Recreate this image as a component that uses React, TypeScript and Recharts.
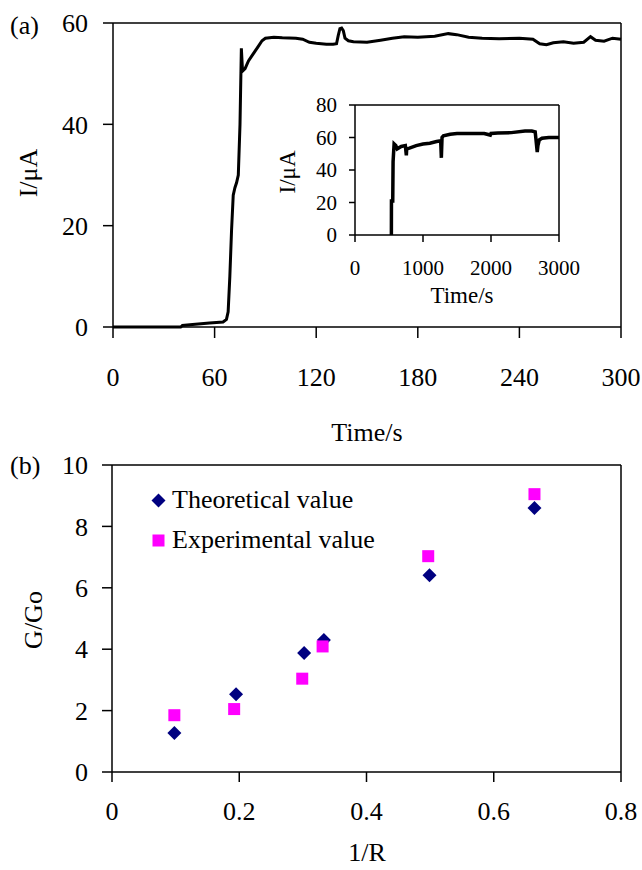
import React from 'react';
import {
  LineChart,
  Line,
  XAxis,
  YAxis,
  ReferenceLine,
  ScatterChart,
  Scatter,
  Legend,
} from 'recharts';

// (a) current transient, main plot
const mainTime = [0, 40, 41, 47, 57, 65, 67, 68, 69, 70, 71, 72, 73, 74, 75, 75.8, 76.5, 78, 80, 82, 84, 86, 88, 90, 95, 100, 108, 112, 116, 120, 126, 130, 132, 133, 134, 135, 136, 137, 139, 142, 150, 158, 165, 172, 180, 190, 198, 203, 210, 218, 228, 240, 248, 252, 256, 260, 266, 272, 278, 282, 285, 290, 295, 300];
const mainCurrent = [0, 0, 0.3, 0.5, 0.8, 1, 1.5, 3, 10, 19, 26, 27.5, 28.5, 30, 40, 55, 50.5, 51, 52.5, 53.5, 54.5, 55.5, 56.5, 57, 57.2, 57.1, 57, 56.8, 56.2, 56, 55.8, 55.8, 55.9, 57.5, 58.9, 59, 58.5, 57, 56.5, 56.3, 56.2, 56.6, 57, 57.3, 57.2, 57.4, 57.9, 57.7, 57.2, 57, 56.9, 57, 56.8, 55.9, 55.7, 56.1, 56.3, 56, 56.2, 57.3, 56.6, 56.4, 57, 56.8];
const mainXTicks = [0, 60, 120, 180, 240, 300];
const mainYTicks = [0, 20, 40, 60];

// (a) inset, long run
const insetTime = [535, 536, 555, 560, 575, 600, 620, 680, 740, 755, 760, 800, 900, 1000, 1100, 1200, 1260, 1270, 1280, 1300, 1400, 1500, 1700, 1900, 1990, 2000, 2100, 2300, 2500, 2600, 2650, 2680, 2690, 2710, 2750, 2850, 3000];
const insetCurrent = [0, 21, 21, 45, 56, 55, 53, 54.5, 55, 49, 53, 53.5, 55, 56, 56.5, 57.5, 58, 47.5, 60, 61, 62, 62.5, 62.5, 62.5, 61.5, 62.5, 62.8, 63, 64, 64, 63.5, 51, 55, 58.5, 59.5, 60, 60];
const insetXTicks = [0, 1000, 2000, 3000];
const insetYTicks = [0, 20, 40, 60, 80];

// (b) G/Go against 1/R
const theoryR = [0.098, 0.195, 0.302, 0.333, 0.499, 0.664];
const theoryG = [1.27, 2.53, 3.88, 4.3, 6.41, 8.6];
const expR = [0.098, 0.192, 0.299, 0.331, 0.497, 0.664];
const expG = [1.85, 2.05, 3.04, 4.09, 7.03, 9.05];
const rTicks = [0, 0.2, 0.4, 0.6, 0.8];
const gTicks = [0, 2, 4, 6, 8, 10];
const legendOrder = ['Theoretical value', 'Experimental value'];

const mainData = mainTime.map((t, i) => ({ t, i: mainCurrent[i] }));
const insetData = insetTime.map((t, i) => ({ t, i: insetCurrent[i] }));
const theoryData = theoryR.map((x, i) => ({ x, y: theoryG[i] }));
const expData = expR.map((x, i) => ({ x, y: expG[i] }));

const FONT = "'Liberation Serif', 'Times New Roman', serif";
const axisStroke = { stroke: '#000', strokeWidth: 1.5 };
const bigTick = { fill: '#000', fontSize: 26, fontFamily: FONT };
const smallTick = { fill: '#000', fontSize: 21, fontFamily: FONT };

const Diamond = (props: any) => {
  const { cx, cy, fill } = props;
  return <polygon points={`${cx},${cy - 7} ${cx + 7},${cy} ${cx},${cy + 7} ${cx - 7},${cy}`} fill={fill} />;
};

const Square = (props: any) => {
  const { cx, cy, fill } = props;
  return <rect x={cx - 6} y={cy - 6} width={12} height={12} fill={fill} />;
};

const renderLegend = (props: any) => {
  const items = [...(props.payload || [])].sort(
    (a: any, b: any) => legendOrder.indexOf(a.value) - legendOrder.indexOf(b.value)
  );
  return (
    <div style={{ fontFamily: FONT, fontSize: 26, color: '#000' }}>
      {items.map((entry: any) => (
        <div key={entry.value} style={{ display: 'flex', alignItems: 'center', height: 40, whiteSpace: 'nowrap' }}>
          <svg width={17} height={17} style={{ marginRight: 5 }}>
            {entry.type === 'diamond'
              ? <Diamond cx={8.5} cy={8.5} fill={entry.color} />
              : <Square cx={8.5} cy={8.5} fill={entry.color} />}
          </svg>
          <span>{entry.value}</span>
        </div>
      ))}
    </div>
  );
};

const Titles = () => (
  <svg width={642} height={870} style={{ position: 'absolute', left: 0, top: 0, pointerEvents: 'none' }}>
    <g fontFamily={FONT} fill="#000">
      <text x={10} y={34} fontSize={26}>(a)</text>
      <text x={28} y={173} fontSize={26} textAnchor="middle" dy="0.35em" transform="rotate(-90 28 173)">I/μA</text>
      <text x={367} y={441} fontSize={26} textAnchor="middle">Time/s</text>
      <text x={287} y={172} fontSize={23} textAnchor="middle" dy="0.35em" transform="rotate(-90 287 172)">I/μA</text>
      <text x={462} y={303} fontSize={23} textAnchor="middle">Time/s</text>
      <text x={10} y={474} fontSize={26}>(b)</text>
      <text x={33} y={620} fontSize={26} textAnchor="middle" dy="0.35em" transform="rotate(-90 33 620)">G/Go</text>
      <text x={367} y={861} fontSize={26} textAnchor="middle">1/R</text>
    </g>
  </svg>
);

export default function App() {
  return (
    <div style={{ position: 'absolute', left: 0, top: 0, width: 642, height: 870, background: '#fff' }}>
      <div style={{ position: 'absolute', left: 0, top: 0 }}>
        <LineChart width={642} height={450} data={mainData} margin={{ top: 23, right: 21, bottom: 0, left: 0 }}>
          <XAxis
            type="number"
            dataKey="t"
            domain={[0, 300]}
            ticks={mainXTicks}
            interval={0}
            height={123}
            tick={bigTick}
            tickSize={11}
            tickMargin={30}
            axisLine={axisStroke}
            tickLine={axisStroke}
          />
          <YAxis
            type="number"
            domain={[0, 60]}
            ticks={mainYTicks}
            interval={0}
            width={113}
            tick={bigTick}
            tickSize={10}
            tickMargin={15}
            axisLine={axisStroke}
            tickLine={axisStroke}
          />
          <ReferenceLine y={60} stroke="#000" strokeWidth={1.5} />
          <ReferenceLine x={300} stroke="#000" strokeWidth={1.5} />
          <Line type="linear" dataKey="i" stroke="#000" strokeWidth={3} dot={false} isAnimationActive={false} />
        </LineChart>
      </div>

      <div style={{ position: 'absolute', left: 290, top: 90 }}>
        <LineChart width={290} height={230} data={insetData} margin={{ top: 15, right: 21, bottom: 0, left: 0 }}>
          <XAxis
            type="number"
            dataKey="t"
            domain={[0, 3000]}
            ticks={insetXTicks}
            interval={0}
            height={85}
            tick={smallTick}
            tickSize={7}
            tickMargin={18}
            axisLine={axisStroke}
            tickLine={axisStroke}
          />
          <YAxis
            type="number"
            domain={[0, 80]}
            ticks={insetYTicks}
            interval={0}
            width={65}
            tick={smallTick}
            tickSize={6}
            tickMargin={12}
            axisLine={axisStroke}
            tickLine={axisStroke}
          />
          <ReferenceLine y={80} stroke="#000" strokeWidth={1.5} />
          <ReferenceLine x={3000} stroke="#000" strokeWidth={1.5} />
          <Line type="linear" dataKey="i" stroke="#000" strokeWidth={3.5} dot={false} isAnimationActive={false} />
        </LineChart>
      </div>

      <div style={{ position: 'absolute', left: 0, top: 440 }}>
        <ScatterChart width={642} height={430} margin={{ top: 25, right: 21, bottom: 0, left: 0 }}>
          <XAxis
            type="number"
            dataKey="x"
            domain={[0, 0.8]}
            ticks={rTicks}
            interval={0}
            height={98}
            tick={bigTick}
            tickSize={10}
            tickMargin={20}
            axisLine={axisStroke}
            tickLine={axisStroke}
          />
          <YAxis
            type="number"
            dataKey="y"
            domain={[0, 10]}
            ticks={gTicks}
            interval={0}
            width={112}
            tick={bigTick}
            tickSize={10}
            tickMargin={14}
            axisLine={axisStroke}
            tickLine={axisStroke}
          />
          <ReferenceLine y={10} stroke="#000" strokeWidth={1.5} />
          <ReferenceLine x={0.8} stroke="#000" strokeWidth={1.5} />
          <Legend
            content={renderLegend}
            layout="horizontal"
            verticalAlign="middle"
            align="center"
            wrapperStyle={{ left: 150, top: 40, width: 'auto', height: 'auto' }}
          />
          <Scatter name="Theoretical value" data={theoryData} fill="#000080" shape={Diamond} legendType="diamond" isAnimationActive={false} />
          <Scatter name="Experimental value" data={expData} fill="#FF00FF" shape={Square} legendType="square" isAnimationActive={false} />
        </ScatterChart>
      </div>

      <Titles />
    </div>
  );
}
